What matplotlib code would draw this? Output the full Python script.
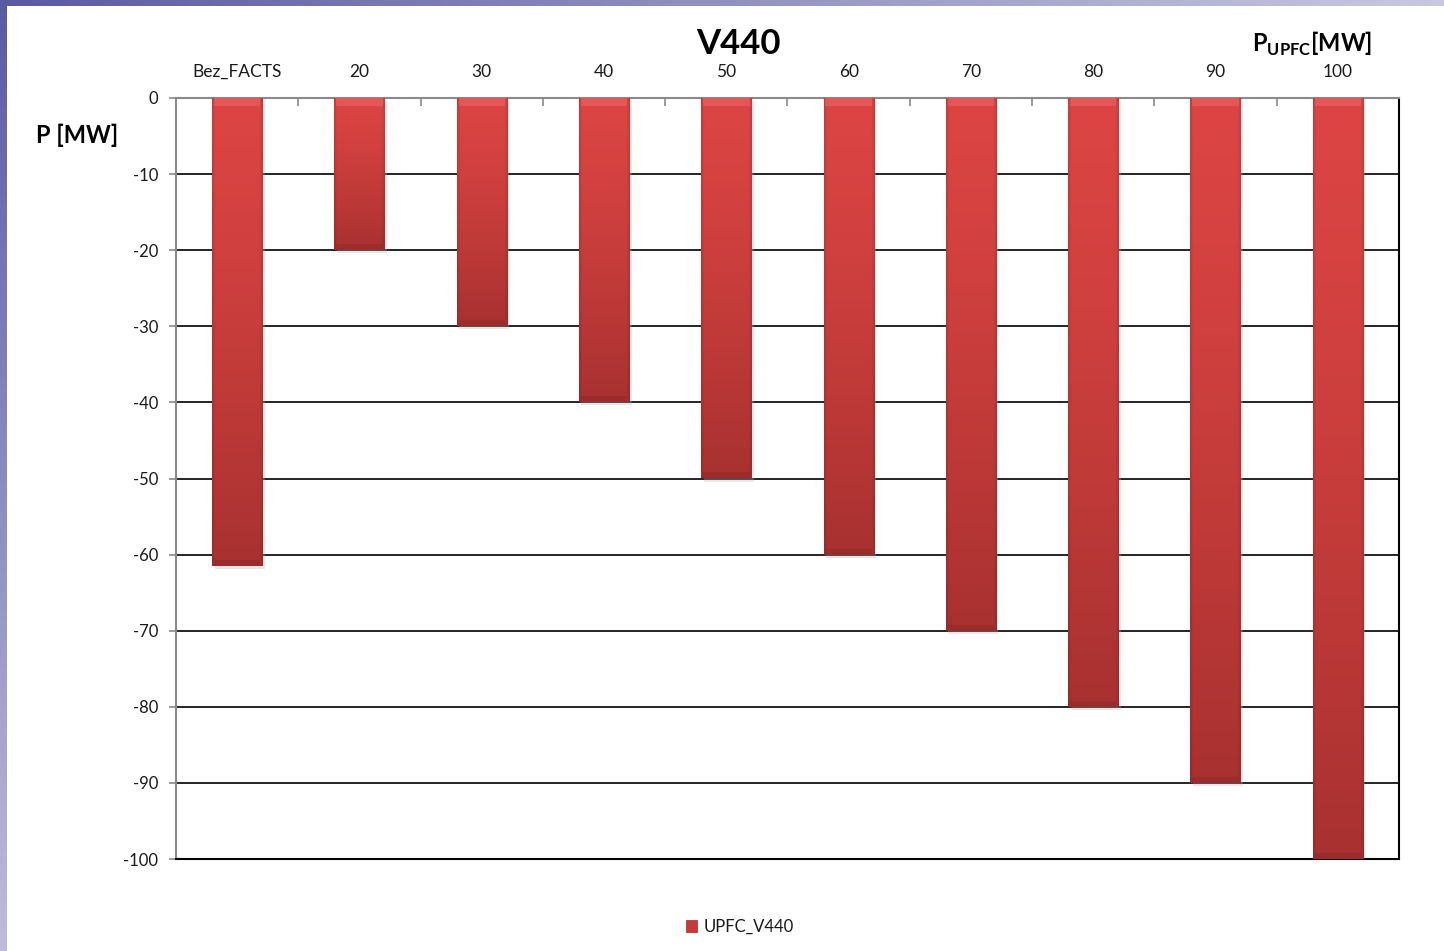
import numpy as np
import matplotlib
matplotlib.use("Agg")
import matplotlib.pyplot as plt
from matplotlib.colors import to_rgb
from matplotlib.patches import Patch, Rectangle

plt.rcParams['font.family'] = ['Lato', 'DejaVu Sans']

categories = ['Bez_FACTS', '20', '30', '40', '50', '60', '70', '80', '90', '100']
p_line = [-61.5, -20, -30, -40, -50, -60, -70, -80, -90, -100]
y_ticks = [0, -10, -20, -30, -40, -50, -60, -70, -80, -90, -100]

W, H = 1444, 951
fig = plt.figure(figsize=(W / 100, H / 100), dpi=100)

# slide frame: purple gradient strips on the left and top edge
bg = fig.add_axes([0, 0, 1, 1], zorder=-10)
bg.axis('off')
dark = np.array(to_rgb('#5a5aa2'))
light_l = np.array(to_rgb('#bcbcda'))
light_t = np.array(to_rgb('#c8c8e0'))
t = np.linspace(0, 1, 256)
left_strip = (dark[None, :] * (1 - t[:, None]) + light_l[None, :] * t[:, None])[:, None, :]
top_strip = (dark[None, :] * (1 - t[:, None]) + light_t[None, :] * t[:, None])[None, :, :]
bg.imshow(left_strip, extent=[0, 7, H, 0], aspect='auto', interpolation='bilinear')
bg.imshow(top_strip, extent=[0, W, 6, 0], aspect='auto', interpolation='bilinear')
bg.set_xlim(0, W)
bg.set_ylim(H, 0)

ax = fig.add_axes([176 / W, 1 - 859 / H, (1399 - 176) / W, (859 - 98) / H])

# gradient fill for the bars (lighter at the top, bevelled edges)
top_c = np.array(to_rgb('#dc4543'))
bot_c = np.array(to_rgb('#a83130'))
ny, nx = 800, 60
v = np.linspace(0, 1, ny)[:, None] ** 1.3
h = np.linspace(-1, 1, nx)[None, :]
base = top_c[None, None, :] * (1 - v[..., None]) + bot_c[None, None, :] * v[..., None]
edge = 1 - 0.12 * np.clip((np.abs(h) - 0.88) / 0.12, 0, 1)
grad = np.clip(base * edge[..., None], 0, 1)

bar_w = 0.41
for i, val in enumerate(p_line):
    x0 = i + 0.5 - bar_w / 2
    ax.add_patch(Rectangle((x0 + 0.02, val - 0.4), bar_w, -val, facecolor='#b0b0b0',
                           alpha=0.3, edgecolor='none', zorder=2))
    ax.imshow(grad, extent=[x0, x0 + bar_w, val, 0], aspect='auto',
              interpolation='bilinear', interpolation_stage='rgba', zorder=3)
    # bevel highlight on the top edge, darker rim on the bottom edge
    ax.add_patch(Rectangle((x0 + 0.015, -1.0), bar_w - 0.03, 1.0, facecolor='#f06a66',
                           alpha=0.5, edgecolor='none', zorder=4))
    ax.add_patch(Rectangle((x0 + 0.015, val), bar_w - 0.03, 0.8, facecolor='#7a2020',
                           alpha=0.25, edgecolor='none', zorder=4))

ax.set_xlim(0, len(categories))
ax.set_ylim(-100, 0)
ax.set_aspect('auto')

ax.set_yticks(y_ticks)
ax.set_yticklabels([str(y) for y in y_ticks])
ax.yaxis.grid(True, color='black', linewidth=1.2, zorder=1)
ax.set_axisbelow(True)
ax.tick_params(axis='y', length=5, width=1.2, color='#8a8a8a', pad=8,
               labelsize=12, labelcolor='#1a1a1a')

ax.xaxis.tick_top()
ax.set_xticks(np.arange(0, len(categories) + 1))
ax.set_xticklabels([])
ax.set_xticks(np.arange(len(categories)) + 0.5, minor=True)
ax.set_xticklabels(categories, minor=True)
ax.tick_params(axis='x', which='major', direction='in', length=6, width=1.2, color='#8a8a8a')
ax.tick_params(axis='x', which='minor', length=0, pad=13, labelsize=12.5, labelcolor='#1a1a1a')

for side in ['left', 'top']:
    ax.spines[side].set_color('#8a8a8a')
    ax.spines[side].set_linewidth(1.5)
for side in ['right', 'bottom']:
    ax.spines[side].set_color('black')
    ax.spines[side].set_linewidth(1.5)

fig.text(738 / W, 1 - 44 / H, 'V440', ha='center', va='center',
         fontsize=25, fontweight='bold', color='black')
fig.text(1312 / W, 1 - 44 / H, r'P$_{\mathregular{UPFC}}$[MW]', ha='center', va='center',
         fontsize=17, fontweight='bold', color='black')
fig.text(77 / W, 1 - 135 / H, 'P [MW]', ha='center', va='center',
         fontsize=17, fontweight='bold', color='black')

handles = [Patch(facecolor='#c83a38', edgecolor='#a02a28', linewidth=0.5)]
fig.legend(handles, ['UPFC_V440'], loc='center', bbox_to_anchor=(740 / W, 1 - 927 / H),
           frameon=False, fontsize=12, handlelength=0.7, handleheight=0.7,
           handletextpad=0.4, labelcolor='#1a1a1a')

fig.savefig('out.png', dpi=100, facecolor='white')
